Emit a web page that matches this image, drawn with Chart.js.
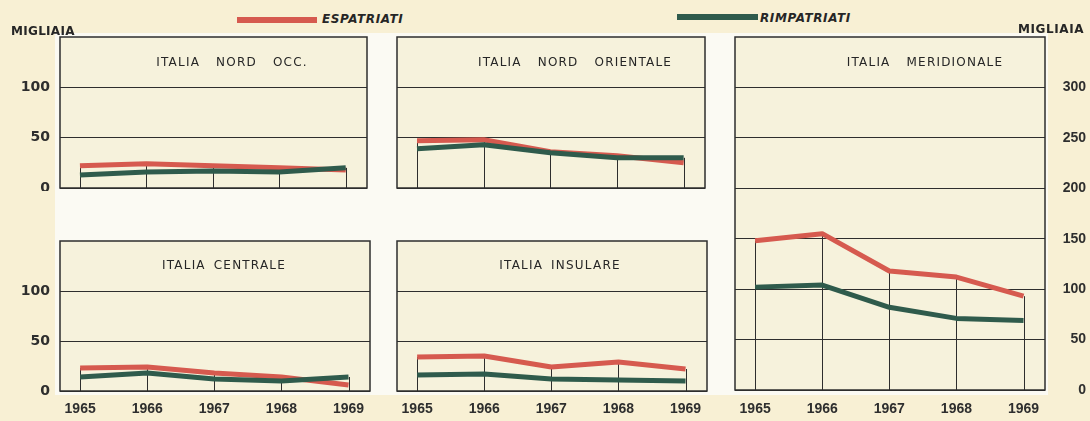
<!DOCTYPE html>
<html>
<head>
<meta charset="utf-8">
<script src="https://cdn.jsdelivr.net/npm/chart.js@4"></script>
<style>
  body { margin: 0; width: 1090px; height: 421px; overflow: hidden; position: relative;
         background: #f8f0d4; font-family: "DejaVu Sans", sans-serif; }
  .paper { position: absolute; left: 55px; top: 33px; width: 993px; height: 362px; background: #fbfaf3; }
  canvas { position: absolute; }
  .txt { position: absolute; color: #262626; white-space: pre; z-index: 2; }
  .key { position: absolute; height: 6px; }
  .title { font-size: 12px; letter-spacing: 1.2px; word-spacing: 3px; text-align: center; width: 320px; line-height: 14px; }
</style>
</head>
<body>
<div class="paper"></div>

<canvas id="c1"></canvas>
<canvas id="c2"></canvas>
<canvas id="c3"></canvas>
<canvas id="c4"></canvas>
<canvas id="c5"></canvas>

<div class="key" style="left:237px;top:17px;width:80px;background:#d65a4f;"></div>
<div class="txt" style="left:322px;top:12px;font:italic bold 12px 'DejaVu Sans';letter-spacing:0.6px;">ESPATRIATI</div>
<div class="key" style="left:677px;top:14px;width:81px;background:#2f5b4c;"></div>
<div class="txt" style="left:760px;top:11px;font:italic bold 12px 'DejaVu Sans';letter-spacing:0.6px;">RIMPATRIATI</div>
<div class="txt" style="left:11px;top:24px;font:bold 12px 'DejaVu Sans';letter-spacing:0.3px;">MIGLIAIA</div>
<div class="txt" style="left:1018px;top:22px;font:bold 12px 'DejaVu Sans';letter-spacing:0.6px;">MIGLIAIA</div>

<div class="txt title" style="left:72px;top:55px;">ITALIA  NORD  OCC.</div>
<div class="txt title" style="left:415px;top:55px;">ITALIA  NORD  ORIENTALE</div>
<div class="txt title" style="left:765px;top:55px;">ITALIA  MERIDIONALE</div>
<div class="txt title" style="left:64px;top:258px;">ITALIA CENTRALE</div>
<div class="txt title" style="left:400px;top:258px;">ITALIA INSULARE</div>

<script>
// migliaia di persone, 1965-1969
const years = [1965, 1966, 1967, 1968, 1969];
const smallTicks = [0, 50, 100];
const bigTicks = [0, 50, 100, 150, 200, 250, 300];

const nordOccEsp = [22, 24, 22, 20, 18];
const nordOccRimp = [13, 16, 17, 16, 20];
const nordOrEsp = [47, 48, 36, 32, 25];
const nordOrRimp = [39, 43, 35, 30, 30];
const meridEsp = [148, 155, 118, 112, 93];
const meridRimp = [102, 104, 82, 71, 69];
const centrEsp = [23, 24, 18, 14, 6];
const centrRimp = [14, 18, 12, 10, 14];
const insulEsp = [34, 35, 24, 29, 22];
const insulRimp = [16, 17, 12, 11, 10];

const RED = '#d65a4f';
const GREEN = '#2f5b4c';
const INK = '#2e2e2e';

// panel background, drop lines and frame
const panelPlugin = {
  id: 'panel',
  beforeDraw(chart) {
    const a = chart.chartArea, ctx = chart.ctx;
    ctx.save();
    ctx.fillStyle = '#f6f2dc';
    ctx.fillRect(a.left, a.top, a.right - a.left, a.bottom - a.top);
    ctx.restore();
  },
  beforeDatasetsDraw(chart) {
    const ctx = chart.ctx, xs = chart.scales.x, ys = chart.scales.y;
    const ds = chart.data.datasets;
    ctx.save();
    ctx.strokeStyle = INK;
    ctx.lineWidth = 1;
    years.forEach((yr, i) => {
      const top = Math.max(...ds.map(d => d.data[i].y));
      const x = Math.round(xs.getPixelForValue(yr)) + 0.5;
      ctx.beginPath();
      ctx.moveTo(x, ys.getPixelForValue(0));
      ctx.lineTo(x, ys.getPixelForValue(top));
      ctx.stroke();
    });
    ctx.restore();
  },
  afterDraw(chart) {
    const a = chart.chartArea, ctx = chart.ctx;
    ctx.save();
    ctx.strokeStyle = INK;
    ctx.lineWidth = 1.5;
    ctx.strokeRect(a.left, a.top, a.right - a.left, a.bottom - a.top);
    ctx.restore();
  }
};

const makePanel = (id, frame, esp, rimp, opt) => {
  const pad = 3;
  const lw = opt.left ? 57 : 0;
  const rw = opt.right ? 41 : 0;
  const bh = opt.bottom ? 27 : 0;
  const max = opt.big ? 350 : 150;
  const ticks = opt.big ? bigTicks : smallTicks;

  const cv = document.getElementById(id);
  const left = frame.l - pad - lw, top = frame.t - pad;
  const w = frame.r + pad + rw - left, h = frame.b + pad + bh - top;
  cv.style.left = left + 'px';
  cv.style.top = top + 'px';
  cv.width = w; cv.height = h;
  cv.style.width = w + 'px'; cv.style.height = h + 'px';

  const pts = (arr) => years.map((yr, i) => ({ x: yr, y: arr[i] }));

  new Chart(cv, {
    type: 'line',
    data: {
      datasets: [
        { label: 'Espatriati', data: pts(esp), borderColor: RED, borderWidth: 5, pointRadius: 0,
          tension: 0, borderJoinStyle: 'round', order: 2 },
        { label: 'Rimpatriati', data: pts(rimp), borderColor: GREEN, borderWidth: 5, pointRadius: 0,
          tension: 0, borderJoinStyle: 'round', order: 1 }
      ]
    },
    options: {
      responsive: false,
      animation: false,
      layout: { padding: pad },
      plugins: { legend: { display: false }, tooltip: { enabled: false } },
      scales: {
        x: {
          type: 'linear',
          min: 1964.7,
          max: 1969.32,
          grid: { display: false, drawTicks: false },
          border: { display: false },
          afterBuildTicks: (s) => { s.ticks = years.map(v => ({ value: v })); },
          afterFit: (s) => { s.height = bh; s.paddingLeft = 0; s.paddingRight = 0; },
          ticks: {
            display: !!opt.bottom,
            autoSkip: false,
            maxRotation: 0,
            padding: opt.big ? 11 : 10,
            color: INK,
            font: { family: 'Liberation Sans', size: 14, weight: 'bold' },
            callback: (v) => String(v)
          }
        },
        y: {
          position: opt.right ? 'right' : 'left',
          min: 0,
          max: max,
          grid: { color: INK, lineWidth: 1, drawTicks: false },
          border: { display: false },
          afterBuildTicks: (s) => { s.ticks = ticks.map(v => ({ value: v })); },
          afterFit: (s) => { s.width = opt.right ? rw : lw; s.paddingTop = 0; s.paddingBottom = 0; },
          ticks: {
            display: !!(opt.left || opt.right),
            padding: 10,
            crossAlign: opt.right ? 'far' : 'near',
            color: INK,
            font: opt.right
              ? { family: 'Liberation Sans', size: 14, weight: 'bold' }
              : { family: 'DejaVu Sans', size: 14, weight: 'bold' }
          }
        }
      }
    },
    plugins: [panelPlugin]
  });
};

window.onload = () => {
  makePanel('c1', { l: 60, t: 37, r: 367, b: 188 }, nordOccEsp, nordOccRimp, { left: true });
  makePanel('c2', { l: 397, t: 37, r: 705, b: 188 }, nordOrEsp, nordOrRimp, {});
  makePanel('c3', { l: 735, t: 37, r: 1045, b: 390 }, meridEsp, meridRimp, { right: true, bottom: true, big: true });
  makePanel('c4', { l: 60, t: 241, r: 370, b: 391 }, centrEsp, centrRimp, { left: true, bottom: true });
  makePanel('c5', { l: 397, t: 241, r: 707, b: 391 }, insulEsp, insulRimp, { bottom: true });
};
</script>
</body>
</html>
